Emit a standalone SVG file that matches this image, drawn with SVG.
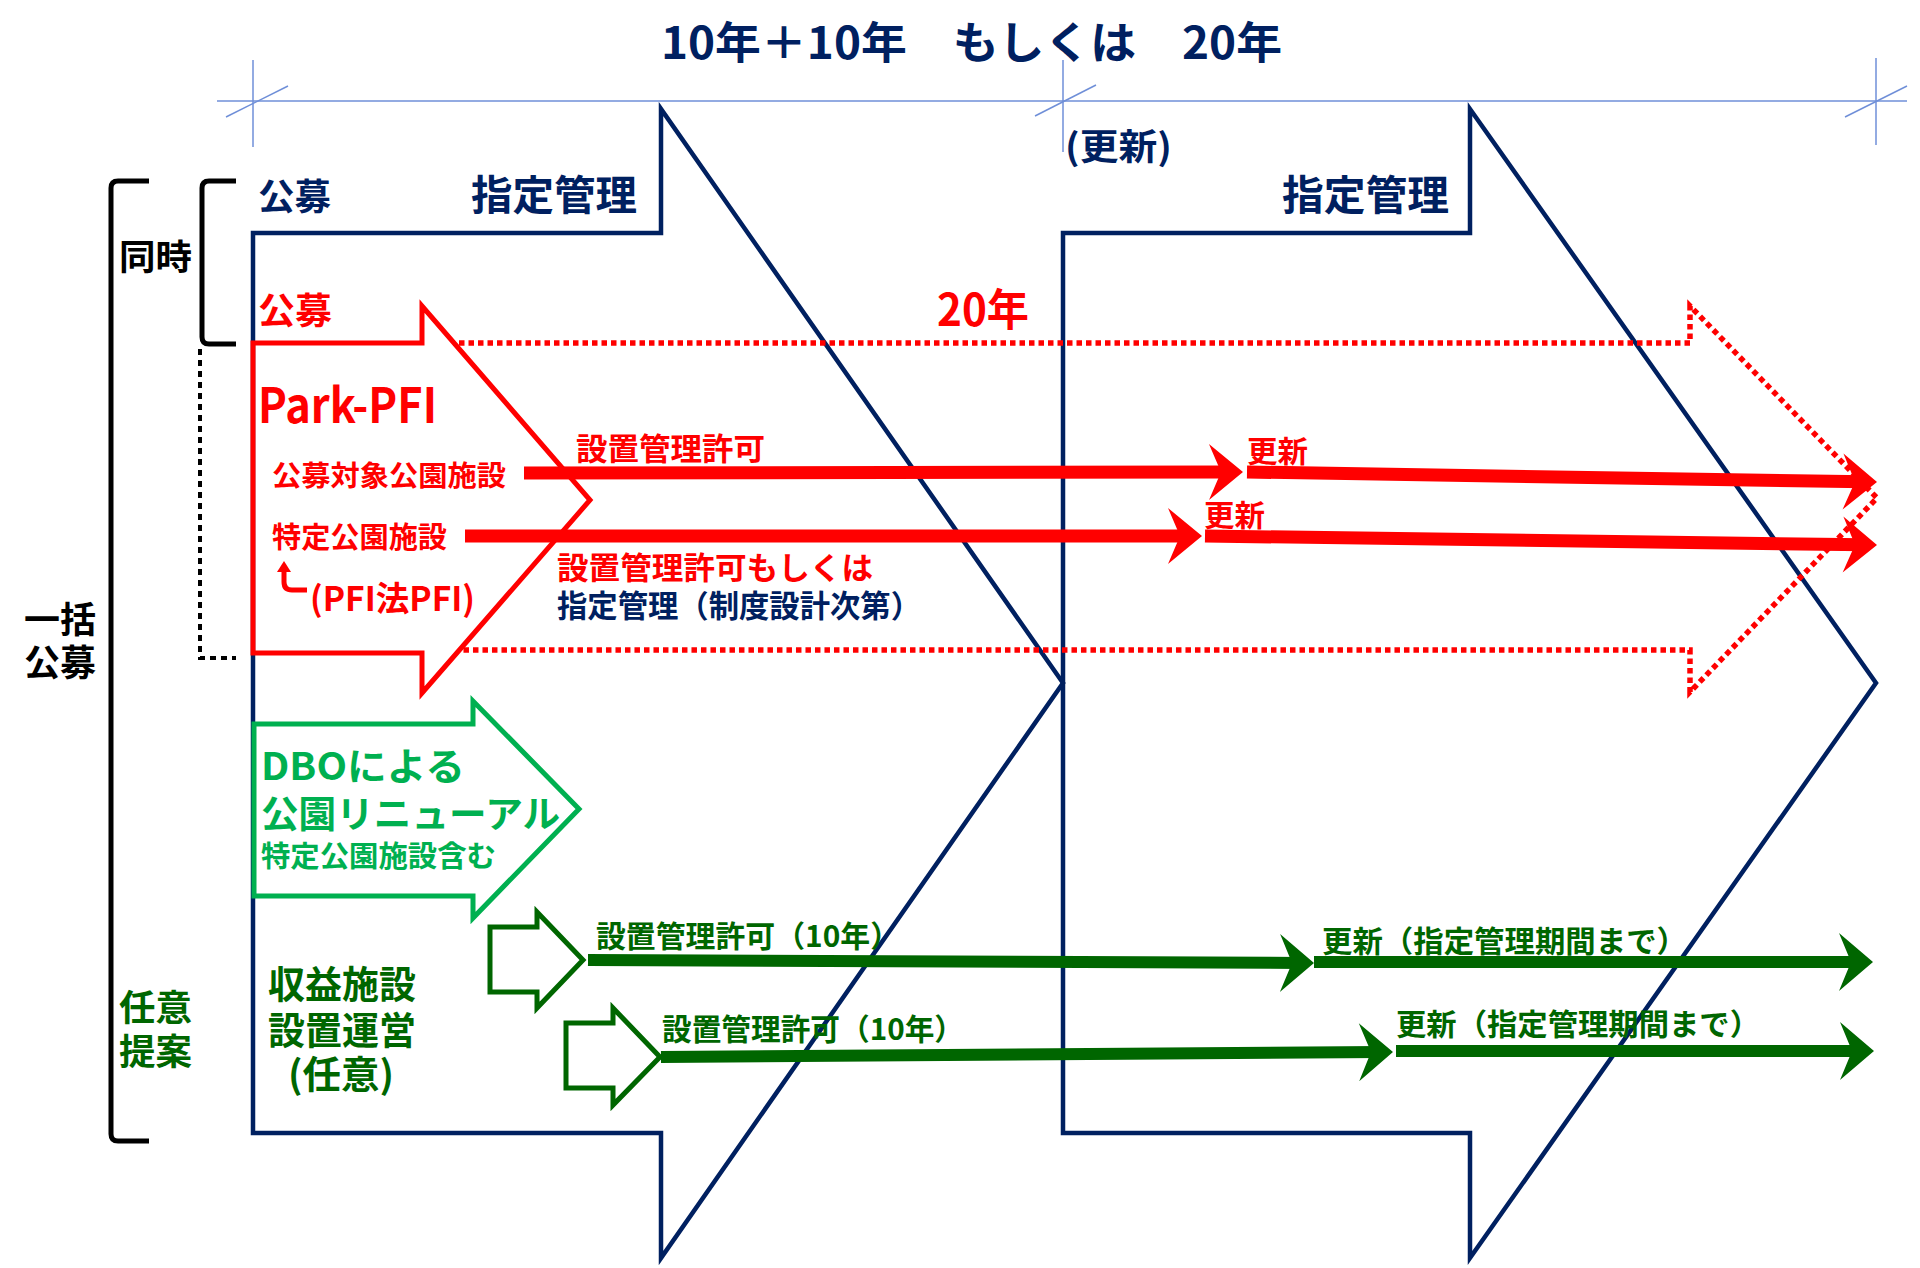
<svg xmlns="http://www.w3.org/2000/svg" width="1920" height="1268" viewBox="0 0 1920 1268">
<style>
.t{font-family:"Noto Sans CJK JP","Noto Sans",sans-serif;font-weight:700;dominant-baseline:central}
.navy{fill:#002060}.red{fill:#FF0000}.grn{fill:#00B050}.dg{fill:#006600}.blk{fill:#000}
.frame{fill:none;stroke:#002060;stroke-width:4.5;stroke-linejoin:miter}
.dim{fill:none;stroke:#6F8FD8;stroke-width:1.5}
.br{fill:none;stroke:#000;stroke-width:5;stroke-linecap:butt;stroke-linejoin:round}
.rbar{fill:none;stroke:#FF0000;stroke-width:13}
.gbar{fill:none;stroke:#006600;stroke-width:12}
</style>
<defs>
<marker id="hr" markerUnits="userSpaceOnUse" markerWidth="40" markerHeight="64" refX="22" refY="32" orient="auto" overflow="visible">
<path d="M0,4 L34,32 L0,60 L12,32 Z" fill="#FF0000"/>
</marker>
<marker id="hg" markerUnits="userSpaceOnUse" markerWidth="40" markerHeight="64" refX="22" refY="32" orient="auto" overflow="visible">
<path d="M0,3 L34,32 L0,61 L12,32 Z" fill="#006600"/>
</marker>
</defs>
<rect width="1920" height="1268" fill="#fff"/>

<g id="dimension">
<line class="dim" x1="217" y1="101" x2="1907" y2="101"/>
<line class="dim" x1="253" y1="60" x2="253" y2="147"/>
<line class="dim" x1="1063" y1="60" x2="1063" y2="152"/>
<line class="dim" x1="1876" y1="58" x2="1876" y2="145"/>
<line class="dim" x1="226" y1="117" x2="288" y2="86"/>
<line class="dim" x1="1035" y1="116" x2="1096" y2="85"/>
<line class="dim" x1="1845" y1="117" x2="1907" y2="86"/>
<text class="t navy" x="661" y="40" font-size="44" textLength="621" lengthAdjust="spacingAndGlyphs">10年＋10年　もしくは　20年</text>
<text class="t navy" x="1065" y="144" font-size="36" textLength="107" lengthAdjust="spacingAndGlyphs">(更新)</text>
</g>

<g id="frame-arrow-1">
<path class="frame" d="M253,233 L661,233 L661,109 L1063,683 L661,1258 L661,1133 L253,1133 Z"/>
<text class="t navy" x="258" y="194" font-size="36" textLength="73" lengthAdjust="spacingAndGlyphs">公募</text>
<text class="t navy" x="471" y="192" font-size="41" textLength="166" lengthAdjust="spacingAndGlyphs">指定管理</text>
</g>

<g id="frame-arrow-2">
<path class="frame" d="M1063,233 L1470,233 L1470,109 L1876,683 L1470,1258 L1470,1133 L1063,1133 Z"/>
<text class="t navy" x="1282" y="192" font-size="41" textLength="167" lengthAdjust="spacingAndGlyphs">指定管理</text>
</g>

<g id="bracket-doji">
<path class="br" d="M236,181 L209,181 Q202,181 202,188 L202,337 Q202,344 209,344 L236,344"/>
<text class="t blk" x="119" y="254" font-size="35" textLength="73" lengthAdjust="spacingAndGlyphs">同時</text>
</g>

<g id="bracket-all">
<path class="br" d="M149,181 L118,181 Q111,181 111,188 L111,1134 Q111,1141 118,1141 L149,1141"/>
<text class="t blk" font-size="36"><tspan x="24" y="617" textLength="72" lengthAdjust="spacingAndGlyphs">一括</tspan><tspan x="24" y="660" textLength="72" lengthAdjust="spacingAndGlyphs">公募</tspan></text>
<text class="t dg" font-size="36"><tspan x="119" y="1005" textLength="73" lengthAdjust="spacingAndGlyphs">任意</tspan><tspan x="119" y="1049" textLength="73" lengthAdjust="spacingAndGlyphs">提案</tspan></text>
</g>

<g id="bracket-dotted">
<path d="M200,349 L200,658 L236,658" fill="none" stroke="#000" stroke-width="4" stroke-dasharray="6 5"/>
</g>

<g id="pfi-20y">
<path d="M459,343 L1690,343 L1690,306 L1877,498 L1690,692 L1690,650 L459,650" fill="none" stroke="#FF0000" stroke-width="5.5" stroke-dasharray="5.5 4"/>
<text class="t red" x="258" y="308" font-size="36" textLength="74" lengthAdjust="spacingAndGlyphs">公募</text>
<text class="t red" x="937" y="307" font-size="44" textLength="92" lengthAdjust="spacingAndGlyphs">20年</text>
</g>

<g id="park-pfi">
<path d="M253,343 L422,343 L422,306 L590,500 L422,693 L422,653 L253,653 Z" fill="none" stroke="#FF0000" stroke-width="5"/>
<text class="t red" x="258" y="402" font-size="48" textLength="179" lengthAdjust="spacingAndGlyphs">Park-PFI</text>
<text class="t red" x="272" y="474" font-size="28" textLength="234" lengthAdjust="spacingAndGlyphs">公募対象公園施設</text>
<path d="M284,569 L284,582 Q284,590 292,590 L307,590" fill="none" stroke="#FF0000" stroke-width="5"/>
<polygon points="277,572 284,561 291,572" fill="#FF0000"/>
<text class="t red"><tspan x="272" y="535" font-size="29" textLength="175" lengthAdjust="spacingAndGlyphs">特定公園施設</tspan><tspan x="310" y="596" font-size="34" textLength="165" lengthAdjust="spacingAndGlyphs">(PFI法PFI)</tspan></text>
</g>

<g id="dbo">
<path d="M254,724 L473,724 L473,701 L579,809 L473,918 L473,896 L254,896 Z" fill="none" stroke="#00B050" stroke-width="5"/>
<text class="t grn"><tspan x="261" y="763" font-size="38" textLength="204" lengthAdjust="spacingAndGlyphs">DBOによる</tspan><tspan x="261" y="812" font-size="37" textLength="299" lengthAdjust="spacingAndGlyphs">公園リニューアル</tspan><tspan x="261" y="854" font-size="29" textLength="235" lengthAdjust="spacingAndGlyphs">特定公園施設含む</tspan></text>
</g>

<g id="revenue">
<text class="t dg" font-size="38"><tspan x="268" y="981" textLength="148" lengthAdjust="spacingAndGlyphs">収益施設</tspan><tspan x="268" y="1027" textLength="148" lengthAdjust="spacingAndGlyphs">設置運営</tspan><tspan x="288" y="1071" textLength="106" lengthAdjust="spacingAndGlyphs">(任意)</tspan></text>
</g>

<g id="start-arrow-1">
<path d="M490,927 L537,927 L537,912 L583,960 L537,1008 L537,992 L490,992 Z" fill="none" stroke="#006600" stroke-width="5"/>
</g>
<g id="start-arrow-2">
<path d="M566,1023 L613,1023 L613,1008 L660,1057 L613,1105 L613,1088 L566,1088 Z" fill="none" stroke="#006600" stroke-width="5"/>
</g>

<g id="connectors">
<line class="rbar" x1="524" y1="473" x2="1231" y2="472" marker-end="url(#hr)"/>
<line class="rbar" x1="1247" y1="472" x2="1865" y2="481.8" marker-end="url(#hr)"/>
<line class="rbar" x1="465" y1="536" x2="1190" y2="536" marker-end="url(#hr)"/>
<line class="rbar" x1="1205" y1="536" x2="1865" y2="544.8" marker-end="url(#hr)"/>
<line class="gbar" x1="588" y1="960" x2="1302" y2="963" marker-end="url(#hg)"/>
<line class="gbar" x1="1314" y1="962" x2="1861" y2="962" marker-end="url(#hg)"/>
<line class="gbar" x1="661" y1="1057" x2="1381" y2="1052" marker-end="url(#hg)"/>
<line class="gbar" x1="1396" y1="1051" x2="1862" y2="1051" marker-end="url(#hg)"/>
</g>

<g id="labels">
<text class="t red" x="576" y="446" font-size="31" textLength="189" lengthAdjust="spacingAndGlyphs">設置管理許可</text>
<text class="t red" x="1247" y="449" font-size="30" textLength="61" lengthAdjust="spacingAndGlyphs">更新</text>
<text class="t red" x="1204" y="513" font-size="30" textLength="61" lengthAdjust="spacingAndGlyphs">更新</text>
<text class="t" font-size="31"><tspan class="red" x="557" y="565" textLength="316" lengthAdjust="spacingAndGlyphs">設置管理許可もしくは</tspan><tspan class="navy" x="557" y="603" textLength="364" lengthAdjust="spacingAndGlyphs">指定管理（制度設計次第）</tspan></text>
<text class="t dg" x="596" y="934" font-size="30" textLength="304" lengthAdjust="spacingAndGlyphs">設置管理許可（10年）</text>
<text class="t dg" x="1322" y="939" font-size="30" textLength="365" lengthAdjust="spacingAndGlyphs">更新（指定管理期間まで）</text>
<text class="t dg" x="662" y="1027" font-size="30" textLength="302" lengthAdjust="spacingAndGlyphs">設置管理許可（10年）</text>
<text class="t dg" x="1396" y="1022" font-size="30" textLength="364" lengthAdjust="spacingAndGlyphs">更新（指定管理期間まで）</text>
</g>
</svg>
